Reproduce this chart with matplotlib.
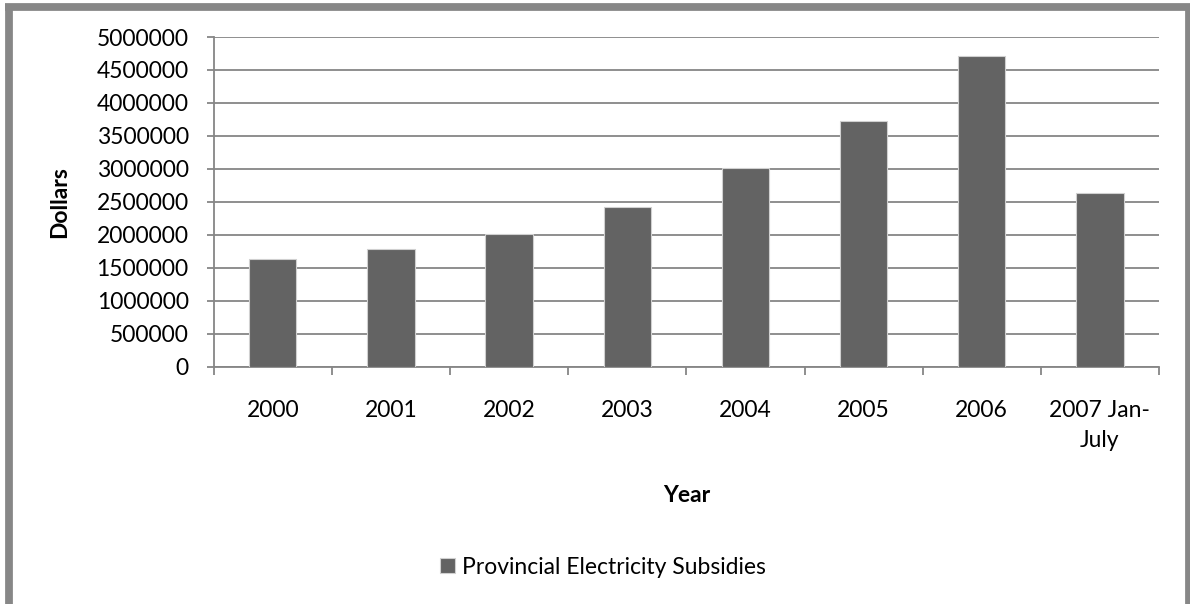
import matplotlib
matplotlib.use("Agg")
import matplotlib.pyplot as plt
from matplotlib.lines import Line2D
import numpy as np

plt.rcParams['font.family'] = ['Lato', 'DejaVu Sans']

years = ["2000", "2001", "2002", "2003", "2004", "2005", "2006", "2007 Jan-\nJuly"]
subsidies = [1640000, 1780000, 2020000, 2420000, 3020000, 3720000, 4710000, 2640000]
y_ticks = list(range(0, 5000001, 500000))

W, H = 1190, 604
grid_col = "#868686"
bar_col = "#636363"
fs = 16.5

fig = plt.figure(figsize=(W / 100, H / 100), dpi=100)
fig.patch.set_facecolor("white")

def fx(px):
    return px / W

def fy(py):
    return 1 - py / H

# outer chart frame
frame = [((8.8, 8.8), (6.7, 607)), ((5, 1192), (6.7, 6.7)),
         ((1188.5, 1188.5), (6.7, 607)), ((5, 1192), (607, 607))]
for xs, ys in frame:
    fig.add_artist(Line2D([fx(v) for v in xs], [fy(v) for v in ys],
                          transform=fig.transFigure, color="#878787",
                          linewidth=5.6, solid_capstyle="butt"))

ax = fig.add_axes([fx(213.7), fy(366.7), fx(1159) - fx(213.7), fy(37) - fy(366.7)])
x = np.arange(len(years))
bars = ax.bar(x, subsidies, width=0.4, color=bar_col, edgecolor="#d0d0d0",
              linewidth=0.8, zorder=3, label="Provincial Electricity Subsidies")

ax.set_xlim(-0.5, len(years) - 0.5)
ax.set_ylim(0, 5000000)
ax.set_yticks(y_ticks)
ax.set_yticklabels([str(v) for v in y_ticks], fontsize=fs)
ax.yaxis.grid(True, color=grid_col, linewidth=1.3, zorder=0)
ax.set_axisbelow(True)

ax.set_xticks(x)
ax.set_xticklabels(years, fontsize=fs, linespacing=1.55)
ax.set_xticks(np.arange(-0.5, len(years)), minor=True)
ax.tick_params(axis="x", which="major", length=0, pad=24)
ax.tick_params(axis="x", which="minor", length=6, width=1.3, color=grid_col, direction="out")
ax.tick_params(axis="y", length=5, width=1.3, color=grid_col, direction="out", pad=13)

for side in ["top", "right"]:
    ax.spines[side].set_visible(False)
for side in ["left", "bottom"]:
    ax.spines[side].set_color(grid_col)
    ax.spines[side].set_linewidth(1.3)

fig.text(fx(60), fy(202), "Dollars", rotation=90, ha="center", va="center",
         fontsize=fs, fontweight="bold")
fig.text(fx(687), fy(496), "Year", ha="center", va="center",
         fontsize=fs, fontweight="bold")

fig.legend(handles=[bars], loc="center", bbox_to_anchor=(fx(603), fy(567)),
           frameon=False, fontsize=fs, handlelength=0.65, handleheight=0.65,
           handletextpad=0.3)

fig.savefig("out.png", dpi=100, facecolor="white")
